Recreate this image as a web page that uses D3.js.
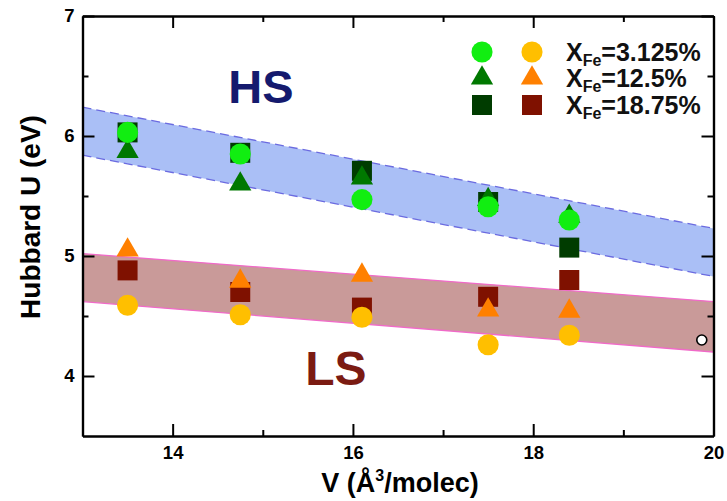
<!DOCTYPE html>
<html>
<head>
<meta charset="utf-8">
<script src="https://cdn.jsdelivr.net/npm/d3@7"></script>
<style>
  body { margin: 0; background: #fff; }
  svg { display: block; }
  text { font-family: "Liberation Sans", Arial, sans-serif; font-weight: bold; }
</style>
</head>
<body>
<svg id="chart"></svg>
<script>
// volumes (x) for every series
const volumes = [13.5, 14.75, 16.1, 17.5, 18.4];

// Fe concentrations, one entry per legend row
const fractions = ["3.125%", "12.5%", "18.75%"];

// high spin U values
const hs3125 = [6.03, 5.85, 5.47, 5.41, 5.30];
const hs125 = [5.87, 5.60, 5.65, 5.47, 5.33];
const hs1875 = [6.03, 5.86, 5.71, 5.45, 5.07];

// low spin U values
const ls3125 = [4.59, 4.51, 4.49, 4.26, 4.34];
const ls125 = [5.05, 4.79, 4.84, 4.55, 4.54];
const ls1875 = [4.88, 4.70, 4.57, 4.66, 4.80];

// shaded bands: [x, upper, lower] at the two ends
const bandX = [13, 20];
const hsUpper = [6.24, 5.23];
const hsLower = [5.84, 4.83];
const lsUpper = [5.02, 4.62];
const lsLower = [4.62, 4.20];

// the lone open circle near the right axis
const openPoint = [19.87, 4.30];

// tick values
const xMajor = [14, 16, 18, 20];
const xMinor = [15, 17, 19];
const yMajor = [4, 5, 6, 7];
const yMinor = [4.5, 5.5, 6.5];

const W = 727, H = 501;
const margin = { top: 16, right: 13.5, bottom: 65, left: 82.5 };
const width = W - margin.left - margin.right;
const height = H - margin.top - margin.bottom;

const x = d3.scaleLinear().domain([13, 20]).range([0, width]);
const y = d3.scaleLinear().domain([3.5, 7]).range([height, 0]);

const svg = d3.select("#chart").attr("width", W).attr("height", H);
const g = svg.append("g").attr("transform", `translate(${margin.left},${margin.top})`);

const defs = svg.append("defs");
defs.append("clipPath").attr("id", "clip")
  .append("rect").attr("width", width).attr("height", height);

// bands
function band(upper, lower, fill, stroke, dash) {
  const pts = bandX.map((v, i) => [x(v), y(upper[i])])
    .concat(bandX.map((v, i) => [x(v), y(lower[i])]).reverse());
  const bg = g.append("g").attr("clip-path", "url(#clip)");
  bg.append("path").attr("d", "M" + pts.join("L") + "Z").attr("fill", fill);
  [upper, lower].forEach(edge => {
    bg.append("line")
      .attr("x1", x(bandX[0])).attr("y1", y(edge[0]))
      .attr("x2", x(bandX[1])).attr("y2", y(edge[1]))
      .attr("stroke", stroke).attr("stroke-width", 1.3)
      .attr("stroke-dasharray", dash);
  });
}
band(hsUpper, hsLower, "#aabff6", "#6b6be0", "9,5");
band(lsUpper, lsLower, "#c99a99", "#f06ac8", null);

// big HS / LS labels
g.append("text").attr("x", x(14.98)).attr("y", y(6.275))
  .attr("text-anchor", "middle").attr("font-size", 47).attr("fill", "#151a6e").text("HS");
g.append("text").attr("x", x(15.81)).attr("y", y(3.925))
  .attr("text-anchor", "middle").attr("font-size", 48).attr("fill", "#7b1b12").text("LS");

// series
const series = [
  { vals: hs1875, shape: d3.symbolSquare, size: 400, color: "#003c00" },
  { vals: ls1875, shape: d3.symbolSquare, size: 400, color: "#7f1100" },
  { vals: hs125, shape: d3.symbolTriangle, size: 215, color: "#007800" },
  { vals: ls125, shape: d3.symbolTriangle, size: 215, color: "#ff8000" },
  { vals: hs3125, shape: d3.symbolCircle, size: 350, color: "#11ee11" },
  { vals: ls3125, shape: d3.symbolCircle, size: 350, color: "#ffbf00" }
];

series.forEach(s => {
  g.append("g").selectAll("path")
    .data(volumes.map((v, i) => [v, s.vals[i]]))
    .enter()
    .append("path")
    .attr("d", d3.symbol(s.shape, s.size))
    .attr("transform", d => `translate(${x(d[0])},${y(d[1])})`)
    .attr("fill", s.color);
});

g.append("circle")
  .attr("cx", x(openPoint[0])).attr("cy", y(openPoint[1])).attr("r", 5)
  .attr("fill", "#fff").attr("stroke", "#000").attr("stroke-width", 1.6);

// axes, ticks pointing inward on all four sides
function styleAxis(sel) {
  sel.selectAll("path").attr("stroke", "#000").attr("stroke-width", 2.2);
  sel.selectAll("line").attr("stroke", "#000").attr("stroke-width", 2);
  sel.selectAll("text").attr("font-size", 18.5).attr("fill", "#000")
    .attr("font-family", "Liberation Sans, Arial, sans-serif");
}

g.append("g").attr("transform", `translate(0,${height})`)
  .call(d3.axisBottom(x).tickValues(xMajor).tickSize(-12).tickSizeOuter(0).tickPadding(10).tickFormat(d3.format("d")))
  .call(styleAxis);
g.append("g").attr("transform", `translate(0,${height})`)
  .call(d3.axisBottom(x).tickValues(xMinor).tickSize(-6).tickSizeOuter(0).tickFormat(""))
  .call(styleAxis);
g.append("g")
  .call(d3.axisTop(x).tickValues(xMajor).tickSize(-12).tickSizeOuter(0).tickFormat(""))
  .call(styleAxis);
g.append("g")
  .call(d3.axisTop(x).tickValues(xMinor).tickSize(-6).tickSizeOuter(0).tickFormat(""))
  .call(styleAxis);

g.append("g")
  .call(d3.axisLeft(y).tickValues(yMajor).tickSize(-12).tickSizeOuter(0).tickPadding(8).tickFormat(d3.format("d")))
  .call(styleAxis);
g.append("g")
  .call(d3.axisLeft(y).tickValues(yMinor).tickSize(-6).tickSizeOuter(0).tickFormat(""))
  .call(styleAxis);
g.append("g").attr("transform", `translate(${width},0)`)
  .call(d3.axisRight(y).tickValues(yMajor).tickSize(-12).tickSizeOuter(0).tickFormat(""))
  .call(styleAxis);
g.append("g").attr("transform", `translate(${width},0)`)
  .call(d3.axisRight(y).tickValues(yMinor).tickSize(-6).tickSizeOuter(0).tickFormat(""))
  .call(styleAxis);

// axis titles
const xt = svg.append("text").attr("x", margin.left + width / 2 + 2).attr("y", 492)
  .attr("text-anchor", "middle").attr("font-size", 27).attr("fill", "#000");
xt.append("tspan").text("V (Å");
xt.append("tspan").attr("font-size", 16).attr("dy", -11).text("3");
xt.append("tspan").attr("dy", 11).text("/molec)");

svg.append("text")
  .attr("transform", `translate(40,${217}) rotate(-90)`)
  .attr("text-anchor", "middle").attr("font-size", 28).attr("fill", "#000")
  .text("Hubbard U (eV)");

// legend
const legendX = [482, 532];
const legendY = [52, 78, 105];
const legendShapes = [
  [series[4], series[5]],
  [series[2], series[3]],
  [series[0], series[1]]
];
const legend = svg.append("g");
fractions.forEach((f, i) => {
  legendShapes[i].forEach((s, j) => {
    legend.append("path")
      .attr("d", d3.symbol(s.shape, s.size))
      .attr("transform", `translate(${legendX[j]},${legendY[i]})`)
      .attr("fill", s.color);
  });
  const t = legend.append("text").attr("x", 566).attr("y", legendY[i] + 9)
    .attr("font-size", 25).attr("fill", "#111");
  t.append("tspan").text("X");
  t.append("tspan").attr("font-size", 16).attr("dy", 5).text("Fe");
  t.append("tspan").attr("dy", -5).text("=" + f);
});
</script>
</body>
</html>
